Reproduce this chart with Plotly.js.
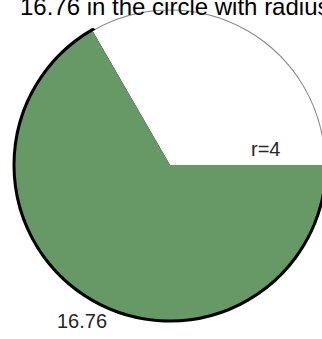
<!DOCTYPE html>
<html>
<head>
<meta charset="utf-8">
<script src="https://cdn.plot.ly/plotly-3.0.1.min.js"></script>
<style>
html, body { margin: 0; padding: 0; overflow: hidden; background: #fff; }
#chart { width: 340px; height: 339px; }
</style>
</head>
<body>
<div id="chart"></div>
<script>
// Data
const sliceNames = ['r=4', '16.76'];
const sliceAreas = [16.76, 33.51];
const sliceColors = ['#ffffff', 'rgb(103,153,103)'];
const titleText = '16.76 in the circle with radius';
const radiusLabel = 'r=4';
const areaLabel = '16.76';

const W = 340, H = 339;
const cx = 170, cy = 165, R = 154.5;
const domain = {
  x: [(cx - R) / W, (cx + R) / W],
  y: [1 - (cy + R) / H, 1 - (cy - R) / H]
};

const base = {
  type: 'pie',
  labels: sliceNames,
  values: sliceAreas,
  sort: false,
  direction: 'counterclockwise',
  rotation: -30,
  textinfo: 'none',
  hoverinfo: 'none',
  showlegend: false,
  domain: domain
};

const outline = Object.assign({}, base, {
  marker: {
    colors: sliceColors,
    line: { color: ['#888888', '#000000'], width: [2, 6] }
  }
});
const fill = Object.assign({}, base, {
  marker: { colors: sliceColors, line: { width: 0 } }
});

const layout = {
  width: W,
  height: H,
  margin: { l: 0, r: 0, t: 0, b: 0 },
  paper_bgcolor: '#ffffff',
  font: { family: 'Liberation Sans, Arial, sans-serif', color: '#000' },
  title: {
    text: titleText,
    xref: 'container', yref: 'container',
    x: 20 / W, xanchor: 'left',
    y: 1 - 15 / H, yanchor: 'bottom',
    font: { size: 24, color: '#000', family: 'Liberation Sans, Arial, sans-serif' }
  },
  annotations: [
    {
      text: areaLabel, showarrow: false, xref: 'paper', yref: 'paper',
      x: 81.5 / W, y: 1 - 321 / H, xanchor: 'center', yanchor: 'middle',
      font: { size: 20, color: '#262626' }
    },
    {
      text: radiusLabel, showarrow: false, xref: 'paper', yref: 'paper',
      x: 265 / W, y: 1 - 149 / H, xanchor: 'center', yanchor: 'middle',
      font: { size: 20, color: '#262626' }
    }
  ]
};

Plotly.newPlot('chart', [outline, fill], layout, { staticPlot: true, displayModeBar: false });
</script>
</body>
</html>
